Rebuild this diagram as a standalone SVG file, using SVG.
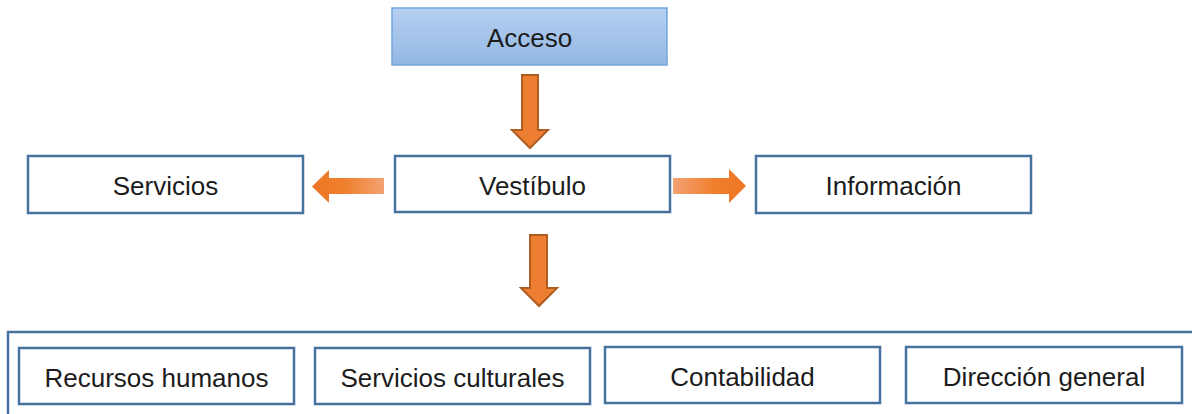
<svg xmlns="http://www.w3.org/2000/svg" width="1192" height="414" viewBox="0 0 1192 414">
<defs>
<linearGradient id="blueGrad" x1="0" y1="0" x2="0" y2="1">
<stop offset="0" stop-color="#b5cff0"/>
<stop offset="1" stop-color="#93b8e4"/>
</linearGradient>
<linearGradient id="orangeR" x1="0" y1="0" x2="1" y2="0">
<stop offset="0" stop-color="#f3a273"/>
<stop offset="0.55" stop-color="#ef7f2e"/>
<stop offset="1" stop-color="#ee7623"/>
</linearGradient>
<linearGradient id="orangeL" x1="1" y1="0" x2="0" y2="0">
<stop offset="0" stop-color="#f3a273"/>
<stop offset="0.55" stop-color="#ef7f2e"/>
<stop offset="1" stop-color="#ee7623"/>
</linearGradient>
</defs>
<style>
.box{fill:#ffffff;stroke:#4672a0;stroke-width:2.5}
.top{fill:url(#blueGrad);stroke:#75a5dc;stroke-width:1.5}
.lbl{font-family:"Liberation Sans",Arial,sans-serif;font-size:26px;fill:#1c1c1c;text-anchor:middle}
.darr{fill:#ee7f32;stroke:#b05d22;stroke-width:2}
</style>
<rect width="1192" height="414" fill="#ffffff"/>
<g id="container">
<rect x="8" y="332" width="1196" height="100" fill="none" stroke="#4672a0" stroke-width="2.5"/>
</g>
<g id="acceso">
<rect class="top" x="392" y="8" width="275" height="57"/>
<text class="lbl" x="529.5" y="47">Acceso</text>
</g>
<g id="vestibulo">
<rect class="box" x="395" y="156" width="275" height="56"/>
<text class="lbl" x="532.5" y="195">Vestíbulo</text>
</g>
<g id="servicios">
<rect class="box" x="28" y="156" width="275" height="57"/>
<text class="lbl" x="165.5" y="195">Servicios</text>
</g>
<g id="informacion">
<rect class="box" x="756" y="156" width="275" height="57"/>
<text class="lbl" x="893.5" y="195">Información</text>
</g>
<g id="recursos">
<rect class="box" x="19" y="348" width="275" height="56"/>
<text class="lbl" x="156.5" y="387">Recursos humanos</text>
</g>
<g id="culturales">
<rect class="box" x="315" y="348" width="275" height="56"/>
<text class="lbl" x="452.5" y="387">Servicios culturales</text>
</g>
<g id="contabilidad">
<rect class="box" x="605" y="347" width="275" height="56"/>
<text class="lbl" x="742.5" y="386">Contabilidad</text>
</g>
<g id="direccion">
<rect class="box" x="906" y="347" width="276" height="56"/>
<text class="lbl" x="1044" y="386">Dirección general</text>
</g>
<g id="connectors">
<polygon class="darr" points="522,75 538,75 538,130 548,130 530,148 512,130 522,130"/>
<polygon class="darr" points="530,235 547,235 547,288 557,288 539,306 521,288 530,288"/>
<polygon fill="url(#orangeR)" points="673,178 729,178 729,169 746,186 729,203 729,194 673,194"/>
<polygon fill="url(#orangeL)" points="384,178 329,178 329,170 312,186.5 329,203 329,194 384,194"/>
</g>
</svg>
